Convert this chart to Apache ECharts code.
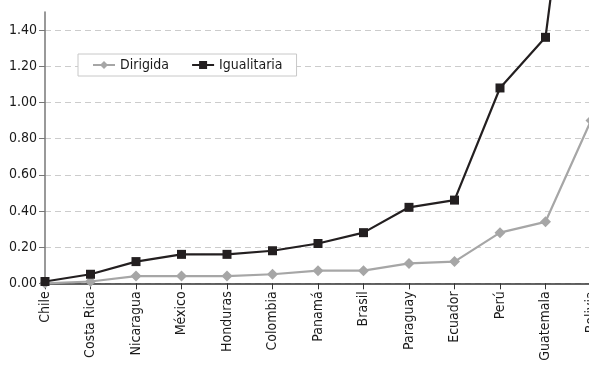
<!DOCTYPE html>
<html>
<head>
<meta charset="utf-8">
<script src="https://cdn.jsdelivr.net/npm/echarts@6/dist/echarts.min.js"></script>
<style>
  html, body { margin: 0; padding: 0; background: #fff; overflow: hidden; width: 589px; height: 366px; }
  #chart { width: 640px; height: 366px; }
</style>
</head>
<body>
<div id="chart"></div>
<script>
// Countries ordered by index value
const countries = ['Chile', 'Costa Rica', 'Nicaragua', 'México', 'Honduras', 'Colombia',
  'Panamá', 'Brasil', 'Paraguay', 'Ecuador', 'Perú', 'Guatemala', 'Bolivia'];
const dirigida = [0.00, 0.01, 0.04, 0.04, 0.04, 0.05, 0.07, 0.07, 0.11, 0.12, 0.28, 0.34, 0.90];
const igualitaria = [0.01, 0.05, 0.12, 0.16, 0.16, 0.18, 0.22, 0.28, 0.42, 0.46, 1.08, 1.36, 3.30];
const yTicks = { min: 0, max: 1.5, interval: 0.2 };

const FONT = '"Liberation Sans Narrow", "DejaVu Sans Condensed", "Roboto Condensed", sans-serif';

const chart = echarts.init(document.getElementById('chart'), null, { renderer: 'canvas' });
chart.setOption({
  animation: false,
  textStyle: { fontFamily: FONT },
  grid: { left: 45, right: 49, top: 12, bottom: 82.7, containLabel: false },
  legend: {
    left: 78, top: 54,
    padding: [4, 14, 4, 14],
    itemGap: 22,
    itemWidth: 22, itemHeight: 10,
    borderColor: '#c8c8c8', borderWidth: 1,
    backgroundColor: '#fff',
    textStyle: { fontFamily: FONT, fontSize: 14, color: '#1a1a1a' },
    data: ['Dirigida', 'Igualitaria']
  },
  xAxis: {
    type: 'category',
    data: countries,
    boundaryGap: false,
    axisLine: { lineStyle: { color: '#333', width: 1.5 } },
    axisTick: { alignWithLabel: true, length: 6, lineStyle: { color: '#333' } },
    axisLabel: { rotate: 90, fontFamily: FONT, fontSize: 14, color: '#1a1a1a', margin: 8, interval: 0 }
  },
  yAxis: {
    type: 'value',
    min: yTicks.min, max: yTicks.max, interval: yTicks.interval,
    axisLine: { show: true, lineStyle: { color: '#777', width: 1.5 } },
    axisTick: { show: true, length: 6, lineStyle: { color: '#777' } },
    axisLabel: {
      fontFamily: FONT, fontSize: 14, color: '#1a1a1a', margin: 8,
      formatter: v => v.toFixed(2),
      showMaxLabel: false
    },
    splitLine: { showMaxLine: false, lineStyle: { color: '#cccccc', type: [6, 4], width: 1 } }
  },
  series: [
    {
      name: 'Dirigida', type: 'line', data: dirigida,
      clip: false,
      symbol: 'diamond', symbolSize: 11,
      itemStyle: { color: '#a6a6a6' },
      lineStyle: { color: '#a6a6a6', width: 2.2 },
      z: 2
    },
    {
      name: 'Igualitaria', type: 'line', data: igualitaria,
      clip: false,
      symbol: 'rect', symbolSize: 9,
      itemStyle: { color: '#231f20' },
      lineStyle: { color: '#231f20', width: 2.2 },
      z: 3
    }
  ]
});
</script>
</body>
</html>
